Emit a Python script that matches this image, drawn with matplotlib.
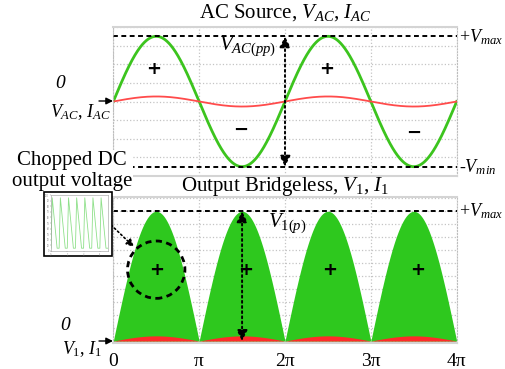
# schita de forme de unda: sursa AC si iesirea redresorului bridgeless
import numpy as np
import matplotlib.pyplot as plt
from matplotlib.patches import Ellipse, Rectangle

plt.rcParams['font.family'] = ['Liberation Serif', 'DejaVu Serif']
plt.rcParams['mathtext.fontset'] = 'custom'
plt.rcParams['mathtext.rm'] = 'Liberation Serif'
plt.rcParams['mathtext.it'] = 'Liberation Serif:italic'

# datele graficului
pi_steps = [0, 1, 2, 3, 4]
tick_labels = ['0', 'π', '2π', '3π', '4π']
v_ac_peak = 3.5     # amplitudinea V_AC (unitati de grila)
i_ac_peak = 0.27    # amplitudinea I_AC
v1_peak = 10.0      # varful V_1
i1_peak = 0.4       # varful I_1
plus_top_x = [0.47, 2.48]
plus_top_y = [1.75, 1.75]
minus_top_x = [1.48, 3.50]
minus_top_y = [-1.55, -1.70]
plus_bot_x = [0.50, 1.54, 2.52, 3.55]
plus_bot_y = [5.5, 5.5, 5.5, 5.5]
inset_t = [0, 0.15, 0.75, 1.0, 1.15, 1.75, 2.0, 2.15, 2.75, 3.0, 3.15, 3.75,
           4.0, 4.15, 4.75, 5.0, 5.15, 5.75, 6.0, 6.15, 6.75, 7.0]
inset_v = [5, 95, 5, 5, 95, 5, 5, 95, 5, 5, 95, 5,
           5, 95, 5, 5, 95, 5, 5, 95, 5, 5]

W, H = 506, 369


def fp(x, y):
    # pixeli (sus-stanga) -> fractie din figura
    return x / W, 1 - y / H


fig = plt.figure(figsize=(W / 100, H / 100), dpi=100)
ax1 = fig.add_axes([113.3 / W, 1 - 176 / H, 343.4 / W, 149 / H])
ax2 = fig.add_axes([113.3 / W, 1 - 343 / H, 343.4 / W, 146 / H])

th = np.linspace(0, 4 * np.pi, 1000)
green = '#2ec81e'

for ax in (ax1, ax2):
    ax.set_xlim(0, 4 * np.pi)
    ax.set_xticks(np.array(pi_steps) * np.pi)
    ax.grid(True, color='#c4c4c4', ls=':', lw=0.9)
    ax.tick_params(length=0, labelleft=False, labelbottom=False)
    ax.set_axisbelow(True)
    for s in ('top', 'bottom'):
        ax.spines[s].set_color('#d4d4d4')
        ax.spines[s].set_linewidth(1.5)
    for s in ('left', 'right'):
        ax.spines[s].set_color('#bdbdbd')
        ax.spines[s].set_linestyle(':')

# panoul de sus
ax1.set_ylim(-4, 4)
ax1.set_yticks(np.arange(-4, 5, 1))
ax1.plot(th, v_ac_peak * np.sin(th), color='#3cc41e', lw=2)
ax1.plot(th, i_ac_peak * np.sin(th), color='#ff4b4b', lw=1.3)
for yy in (v_ac_peak, -v_ac_peak):
    ax1.axhline(yy, color='k', ls=(0, (2.5, 1.8)), lw=1.4)
ax1.annotate('', xy=(2 * np.pi, v_ac_peak), xytext=(2 * np.pi, -v_ac_peak),
             arrowprops=dict(arrowstyle='<|-|>', color='k', lw=1.4, ls=':',
                             mutation_scale=16, shrinkA=0, shrinkB=0))
ax1.text(1.90 * np.pi, 2.95, '$V_{AC(pp)}$', fontsize=15, ha='right', va='center')
for x, y in zip(plus_top_x, plus_top_y):
    ax1.text(x * np.pi, y, '+', fontsize=13, fontweight='bold', family='DejaVu Sans',
             ha='center', va='center')
for x, y in zip(minus_top_x, minus_top_y):
    ax1.text(x * np.pi, y, '−', fontsize=13, fontweight='bold', family='DejaVu Sans',
             ha='center', va='center')

# panoul de jos
ax2.set_ylim(-0.15, 11.1)
ax2.set_yticks(np.arange(0, 12, 1))
ax2.fill_between(th, 0, v1_peak * np.abs(np.sin(th)), color=green, lw=0)
ax2.fill_between(th, 0, i1_peak * np.abs(np.sin(th)), color='#ff2a2a', lw=0)
ax2.axhline(v1_peak, color='k', ls=(0, (2.5, 1.8)), lw=1.4)
ax2.annotate('', xy=(1.5 * np.pi, v1_peak), xytext=(1.5 * np.pi, 0),
             arrowprops=dict(arrowstyle='<|-|>', color='k', lw=1.4, ls=':',
                             mutation_scale=16, shrinkA=0, shrinkB=0))
ax2.text(1.80 * np.pi, 9.1, r'$V_{\mathit{1(p)}}$', fontsize=15, ha='left', va='center')
for x, y in zip(plus_bot_x, plus_bot_y):
    ax2.text(x * np.pi, y, '+', fontsize=13, fontweight='bold', family='DejaVu Sans',
             ha='center', va='center')
ax2.add_patch(Ellipse((0.5 * np.pi, 5.5), 2 * 28.7 / 85.85 * np.pi, 2 * 28.7 / 12.98,
                      fill=False, ec='k', lw=2, ls=(0, (2.2, 1.6))))
ax2.tick_params(labelbottom=True, pad=7, labelsize=14)
ax2.set_xticklabels(tick_labels)

# titluri si etichete
fig.text(*fp(285, 13), 'AC Source, $V_{AC}$, $I_{AC}$', fontsize=15, ha='center', va='center')
fig.text(*fp(285, 186), r'Output Bridgeless, $V_{\mathit{1}}$, $I_{\mathit{1}}$', fontsize=15,
         ha='center', va='center')
fig.text(*fp(72, 171), 'Chopped DC\noutput voltage', fontsize=15, ha='center', va='center',
         linespacing=1.15, bbox=dict(fc='white', ec='none', pad=0.5))
fig.text(*fp(459, 37), '+$V_{max}$', fontsize=13, ha='left', va='center')
fig.text(*fp(459, 167), '-$V_{min}$', fontsize=13, ha='left', va='center')
fig.text(*fp(459, 211), '+$V_{max}$', fontsize=13, ha='left', va='center')
fig.text(*fp(60, 84), '0', fontsize=14, fontstyle='italic', ha='center', va='center')
fig.text(*fp(80, 112), '$V_{AC}$, $I_{AC}$', fontsize=13, ha='center', va='center')
fig.text(*fp(65, 326), '0', fontsize=14, fontstyle='italic', ha='center', va='center')
fig.text(*fp(82, 349), r'$V_{\mathit{1}}$, $I_{\mathit{1}}$', fontsize=13, ha='center', va='center')
for y0 in (101, 341):
    fig.add_artist(plt.Annotation('', xy=fp(113, y0), xytext=fp(99, y0),
                                  xycoords='figure fraction', textcoords='figure fraction',
                                  arrowprops=dict(arrowstyle='-|>', color='k', lw=1,
                                                  mutation_scale=10, shrinkA=0, shrinkB=0)))
fig.add_artist(plt.Annotation('', xy=fp(134, 247), xytext=fp(108, 222),
                              xycoords='figure fraction', textcoords='figure fraction',
                              arrowprops=dict(arrowstyle='-|>', color='k', lw=1.2, ls=':',
                                              mutation_scale=11, shrinkA=0, shrinkB=0)))

# imaginea mica cu tensiunea DC taiata
x0, y0 = fp(44, 256)
fig.add_artist(Rectangle((x0, y0), 68 / W, 64 / H, transform=fig.transFigure,
                         fc='white', ec='k', lw=1.2, zorder=5))
axi = fig.add_axes([51 / W, 1 - 251 / H, 57 / W, 56 / H], zorder=6)
axi.plot(inset_t, inset_v, color='#8fe08a', lw=0.6)
axi.set_xlim(0, 7)
axi.set_ylim(0, 100)
axi.set_yticks(np.arange(0, 101, 10))
axi.set_xticks([0, 2, 4, 6])
axi.tick_params(labelsize=1.8, length=0.8, width=0.3, pad=0.5, colors='#777777')
for s in axi.spines.values():
    s.set_linewidth(0.4)
    s.set_color('#999999')

plt.savefig('out.png', dpi=100)
